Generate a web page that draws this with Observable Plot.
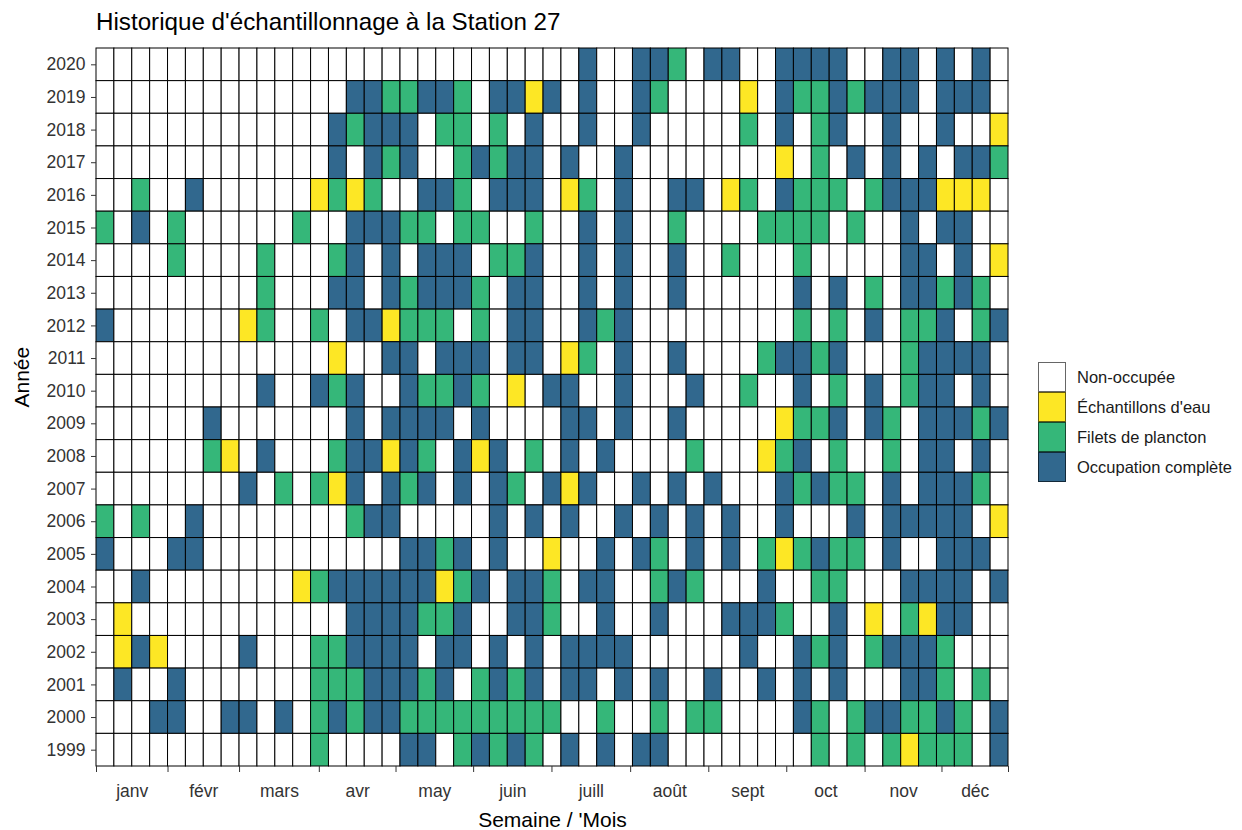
<!DOCTYPE html>
<html>
<head>
<meta charset="utf-8">
<script src="https://cdn.jsdelivr.net/npm/d3@7"></script>
<script src="https://cdn.jsdelivr.net/npm/@observablehq/plot@0.6"></script>
<style>
  body { margin: 0; background: #fff; font-family: "Liberation Sans", Arial, sans-serif; }
  #wrap { position: relative; width: 1242px; height: 830px; overflow: hidden; }
  #title { position: relative; height: 40px; }
  #title span { position: absolute; left: 96px; top: 10px; font-size: 24.2px; line-height: 24px; color: #000; white-space: nowrap; }
  #chart svg { display: block; }
  #legend { position: absolute; left: 1038px; top: 362px; }
  .lrow { display: flex; align-items: center; height: 30px; }
  .lbox { width: 28px; height: 30px; box-sizing: border-box; border: 1px solid rgba(0,0,0,0.6); }
  .llab { margin-left: 11px; font-size: 16.5px; color: #1a1a1a; white-space: nowrap; }
</style>
</head>
<body>
<div id="wrap">
  <div id="title"><span>Historique d'échantillonnage à la Station 27</span></div>
  <div id="chart"></div>
  <div id="legend"></div>
</div>
<script>
// Years, top to bottom
const years = [2020, 2019, 2018, 2017, 2016, 2015, 2014, 2013, 2012, 2011, 2010,
               2009, 2008, 2007, 2006, 2005, 2004, 2003, 2002, 2001, 2000, 1999];

// Weekly status per year, weeks 1..51
// "." = Non-occupée, "Y" = Échantillons d'eau, "G" = Filets de plancton, "B" = Occupation complète
const occupation = [
  ".........." + ".........." + ".......B.." + "BBG.BB..BB" + "BB..BB.B.B" + ".",
  ".........." + "....BBGGBB" + "G.BBYB.B.." + "BG....Y.BG" + "GBGBBB.BBB" + ".",
  ".........." + "...BGBBB.G" + "G.G.B..B.." + "B.....G.B." + "GB..B..B.." + "Y",
  ".........." + "...B.BGB.." + "GBGBB.B..B" + "........Y." + "G.B.B.B.BB" + "G",
  "..G..B...." + "..YGYG..BB" + "G.BBB.YG.B" + "..BB.YG.BG" + "GG.GBBBYYY" + ".",
  "G.B.G....." + ".G..BBBGG." + "GG..G..B.B" + "..G....GGG" + "G.G..B.BB." + ".",
  "....G....G" + "...GB.B.BB" + "B.GGB..B.B" + "..B..G...G" + ".....BB.B." + "Y",
  ".........G" + "...BB.BGBB" + "BG.BB..B.B" + "..B......B" + ".B.G.BBGBG" + ".",
  "B.......YG" + "..G.BBYGGG" + ".G.BB..BGB" + ".........G" + ".G.B.GGB.G" + "B",
  ".........." + "...Y..BB.B" + "BB.BB.YG.B" + "..B....GBB" + "GB...GBBBB" + ".",
  ".........B" + "..BGB..BGG" + "BG.Y.BB..B" + "...B..G..B" + ".G.B.GBB.B" + ".",
  "......B..." + "....B.BBBB" + ".B....BB.B" + "..B.....YG" + "GB.BG.BBBG" + "B",
  "......GY.B" + "...GBBYBG." + "BYB.G.B.B." + "...G...YGB" + ".G..G.BB.B" + ".",
  "........B." + "G.GYB.BGB." + "B.BG.BYB.." + "B.B.B...BG" + "BGG.B.BBBG" + ".",
  "G.G..B...." + "....GBB..." + "..B.B.B..B" + ".B.B.B..B." + "..B.BBBBB." + "Y",
  "B...BB...." + ".......BBG" + "B.B..Y..B." + "BG.B.B.GYG" + "BGG.B..BBB" + ".",
  "..B......." + ".YGBBBBBBY" + "GB.BBG.BB." + ".GBG...B.." + "GG...BBBB." + "B",
  ".Y........" + "....BBBBGG" + "B..BBG..B." + ".B...BBBG." + ".B.Y.GYBB." + ".",
  ".YBY....B." + "..GGBBBB.B" + "B.B.B.BBBB" + "......B..B" + "GB.GBBBG.." + ".",
  ".B..B....." + "..GGGBBBGB" + ".GBGB.BB.B" + ".B..B..B.B" + ".B...BBG.G" + ".",
  "...BB..BB." + "B.GBGBBGGG" + "GGGGGG..G." + ".G.GG....B" + "G.GBBGGBG." + "B",
  ".........." + "..G....BB." + "GBGBG.B.B." + "BB........" + "G.G.GYGGG." + "B"
];

const codes = [".", "Y", "G", "B"];
const categories = ["Non-occupée", "Échantillons d'eau", "Filets de plancton", "Occupation complète"];
const colors = ["#FFFFFF", "#FDE725", "#35B779", "#31688E"];

// Month boundaries (in week units) and month names
const monthStarts = [0.5, 4.5, 8.5, 12.96, 17.25, 21.59, 25.97, 30.37, 34.74, 39.1, 43.48, 47.78, 51.5];
const monthNames = ["janv", "févr", "mars", "avr", "may", "juin", "juill", "août", "sept", "oct", "nov", "déc"];

const xTitle = "Semaine / 'Mois";
const yTitle = "Année";

// Build table
const cells = [];
years.forEach((yr, i) => {
  const s = occupation[i];
  for (let w = 1; w <= s.length; w++) {
    cells.push({year: String(yr), week: w, status: categories[codes.indexOf(s[w - 1])]});
  }
});
const monthMids = d3.pairs(monthStarts).map(([a, b]) => (a + b) / 2);
const midLabel = new Map(monthMids.map((m, i) => [m, monthNames[i]]));

const chart = Plot.plot({
  width: 1242,
  height: 790,
  marginLeft: 96,
  marginRight: 234,
  marginTop: 8,
  marginBottom: 64,
  style: {fontFamily: "'Liberation Sans', Arial, sans-serif", fontSize: "17.5px", color: "#333", background: "white"},
  x: {domain: [0.5, 51.5], axis: null},
  y: {type: "band", domain: years.map(String), padding: 0, round: false, axis: null},
  color: {domain: categories, range: colors},
  marks: [
    Plot.barX(cells, {x1: d => d.week - 0.5, x2: d => d.week + 0.5, y: "year", fill: "status", stroke: "#000", strokeWidth: 1, inset: 0}),
    Plot.axisY({anchor: "left", tickSize: 5, tickPadding: 6, label: null, fontSize: 17.5, stroke: "#333"}),
    Plot.axisX(monthStarts, {anchor: "bottom", tickSize: 6, tickFormat: () => "", label: null, stroke: "#333"}),
    Plot.axisX(monthMids, {anchor: "bottom", tickSize: 0, tickPadding: 18, tickFormat: d => midLabel.get(d), label: null, fontSize: 17.5}),
    Plot.text([xTitle], {frameAnchor: "bottom", dy: 60, fontSize: 21, fill: "#000", text: d => d}),
    Plot.text([yTitle], {frameAnchor: "left", dx: -74, rotate: -90, fontSize: 21, fill: "#000", text: d => d})
  ]
});
document.getElementById("chart").appendChild(chart);

// Legend
const legend = document.getElementById("legend");
categories.forEach((c, i) => {
  const row = document.createElement("div");
  row.className = "lrow";
  const box = document.createElement("div");
  box.className = "lbox";
  box.style.background = colors[i];
  const lab = document.createElement("div");
  lab.className = "llab";
  lab.textContent = c;
  row.appendChild(box);
  row.appendChild(lab);
  legend.appendChild(row);
});
</script>
</body>
</html>
